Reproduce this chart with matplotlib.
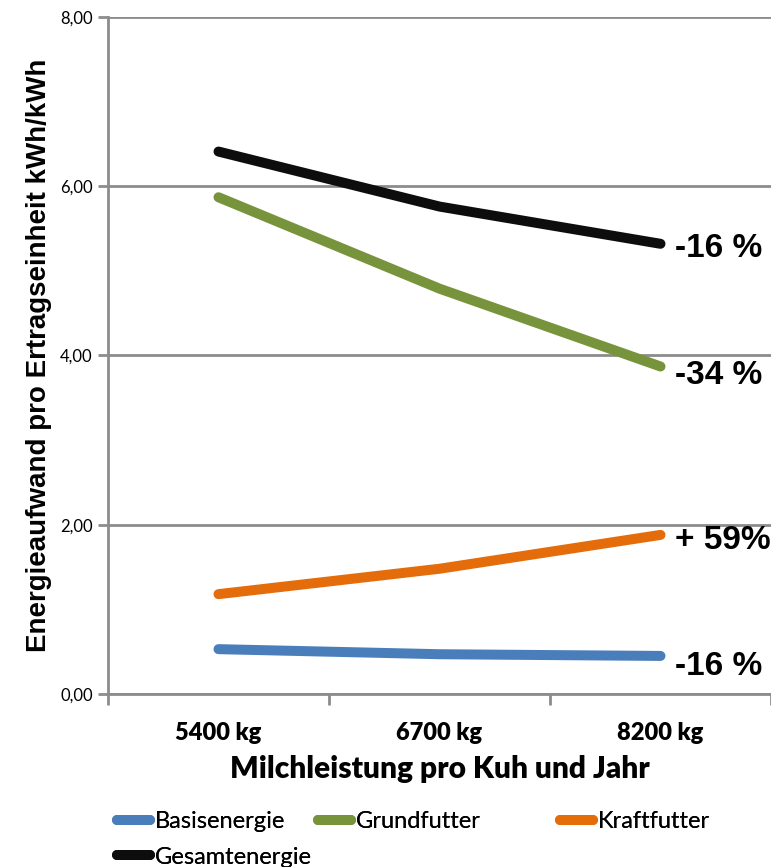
import numpy as np
import matplotlib.pyplot as plt

# data
categories = ['5400 kg', '6700 kg', '8200 kg']
basis = [0.53, 0.47, 0.45]
grund = [5.87, 4.79, 3.87]
kraft = [1.18, 1.48, 1.88]
gesamt = [6.41, 5.76, 5.32]
end_labels = ['-16 %', '-34 %', '+ 59%', '-16 %']

names = ['Basisenergie', 'Grundfutter', 'Kraftfutter', 'Gesamtenergie']
colors = ['#4a7ebb', '#77933c', '#e46c0a', '#0d0d0d']

calib = ['Lato', 'DejaVu Sans']
arial = ['Liberation Sans', 'DejaVu Sans']

fig = plt.figure(figsize=(7.71, 8.67), dpi=100)
ax = fig.add_axes([108/771, 1-694/867, 1-108/771, (694-17)/867])

x = np.arange(len(categories))
series = [basis, grund, kraft, gesamt]
lines = []
for vals, c, n in zip(series, colors, names):
    ln, = ax.plot(x, vals, color=c, lw=7.2, solid_capstyle='round', label=n, zorder=3)
    lines.append(ln)

# percentage labels at the right end
label_y = [basis[-1] - 0.12, grund[-1] - 0.11, kraft[-1] - 0.07, gesamt[-1] - 0.05]
for yy, t in zip(label_y, end_labels):
    ax.text(2.065, yy, t, fontsize=24, fontweight='bold', family=arial,
            va='center', ha='left', clip_on=False)

ax.set_xlim(-0.5, 2.5)
ax.set_ylim(0, 8)
ax.set_yticks([0, 2, 4, 6, 8])
ax.set_yticklabels([('%.2f' % v).replace('.', ',') for v in [0, 2, 4, 6, 8]],
                   fontsize=12, family=calib)
ax.set_xticks(x)
ax.set_xticklabels(categories, fontsize=17, fontweight='heavy', family=calib)
ax.set_xticks([-0.5, 0.5, 1.5, 2.5], minor=True)
ax.tick_params(axis='x', which='major', length=0, pad=20)
ax.tick_params(axis='x', which='minor', length=8, width=2, color='#8c8c8c')
ax.tick_params(axis='y', length=7, width=2, color='#8c8c8c', pad=4)

ax.yaxis.grid(True, color='#8c8c8c', lw=2)
ax.set_axisbelow(True)
for s in ['top', 'right']:
    ax.spines[s].set_visible(False)
for s in ['left', 'bottom']:
    ax.spines[s].set_color('#8c8c8c')
    ax.spines[s].set_linewidth(2)

ax.set_xlabel('Milchleistung pro Kuh und Jahr', fontsize=21.5, fontweight='heavy',
              family=calib, labelpad=8)
ax.set_ylabel('Energieaufwand pro Ertragseinheit kWh/kWh', fontsize=20,
              fontweight='bold', family=arial, labelpad=6)

# legend entries, placed like the Excel legend
legend_pos = [(117, 822), (318, 822), (560, 822), (117, 857)]
for ln, n, (px, py) in zip(lines, names, legend_pos):
    leg = fig.legend([ln], [n], loc='center left', bbox_to_anchor=(px/771, 1-py/867),
                     frameon=False, prop={'family': calib, 'size': 17},
                     handlelength=1.4, handletextpad=0.2,
                     borderaxespad=0, borderpad=0)
    fig.add_artist(leg)

fig.savefig('out.png', dpi=100)
